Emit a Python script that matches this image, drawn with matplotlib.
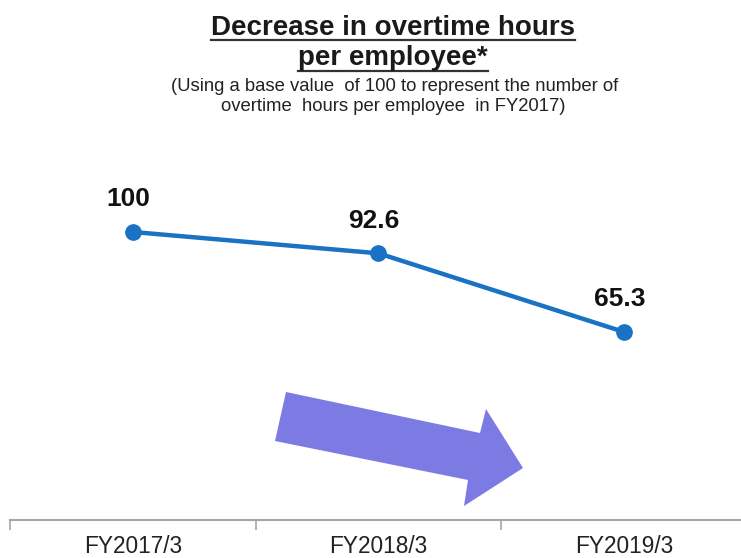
import matplotlib
matplotlib.use("Agg")
import matplotlib.pyplot as plt
from matplotlib.lines import Line2D
from matplotlib.patches import Polygon

plt.rcParams['font.family'] = ['Liberation Sans', 'DejaVu Sans']

categories = ["FY2017/3", "FY2018/3", "FY2019/3"]
values = [100, 92.6, 65.3]
value_labels = ["100", "92.6", "65.3"]
title_lines = ["Decrease in overtime hours", "per employee*"]
subtitle_lines = ["(Using a base value  of 100 to represent the number of",
                  "overtime  hours per employee  in FY2017)"]

W, H = 741, 558
fig = plt.figure(figsize=(W / 100, H / 100), dpi=100)
fig.patch.set_facecolor("white")

ax = fig.add_axes([10 / W, (H - 520) / H, 731 / W, 360 / H])
x = list(range(len(categories)))
ax.plot(x, values, color="#1A72C4", lw=3.2, marker="o", ms=11,
        markerfacecolor="#1A72C4", markeredgecolor="#1A72C4", zorder=3,
        solid_capstyle="round")
for xi, v, lab in zip(x, values, value_labels):
    ax.annotate(lab, (xi, v), xytext=(-3, 18.5), textcoords="offset points",
                ha="center", va="baseline", fontsize=19, fontweight="bold",
                color="#111111")

ax.set_xlim(-0.501, 2.477)
ax.set_ylim(0, 125)
for s in ["top", "right", "left"]:
    ax.spines[s].set_visible(False)
ax.spines["bottom"].set_color("#A6A6A6")
ax.spines["bottom"].set_linewidth(1.5)
ax.set_yticks([])
ax.set_xticks(x)
ax.set_xticklabels(categories, fontsize=16.3, color="#222222")
for lab in ax.get_xticklabels():
    lab.set_verticalalignment("baseline")
ax.tick_params(axis="x", which="major", length=0, pad=24)
ax.set_xticks([-0.5, 0.5, 1.5], minor=True)
ax.tick_params(axis="x", which="minor", length=7, width=1.2, color="#A6A6A6")

# decorative arrow (figure pixel coordinates)
arrow_px = [(286, 392), (480, 433), (486, 409), (523, 468), (464, 506), (468, 480), (275, 441)]
arrow = Polygon([(px / W, 1 - py / H) for px, py in arrow_px], closed=True,
                transform=fig.transFigure, facecolor="#7B7BE3", edgecolor="none", zorder=1)
fig.patches.append(arrow)

# title with underlines
t1 = fig.text(393 / W, 1 - 35 / H, title_lines[0], ha="center", va="baseline",
              fontsize=20, fontweight="bold", color="#1a1a1a")
t2 = fig.text(393 / W, 1 - 65 / H, title_lines[1], ha="center", va="baseline",
              fontsize=20, fontweight="bold", color="#1a1a1a")
fig.text(395 / W, 1 - 91 / H, subtitle_lines[0], ha="center", va="baseline",
         fontsize=13.3, color="#222222")
fig.text(393 / W, 1 - 111 / H, subtitle_lines[1], ha="center", va="baseline",
         fontsize=13.3, color="#222222")

fig.canvas.draw()
r = fig.canvas.get_renderer()
for t, uy in [(t1, 39.5), (t2, 71)]:
    bb = t.get_window_extent(r)
    fig.add_artist(Line2D([bb.x0 / W, bb.x1 / W], [1 - uy / H, 1 - uy / H],
                          transform=fig.transFigure, color="#333333", lw=1.6))

fig.savefig("out.png", dpi=100, facecolor="white")
